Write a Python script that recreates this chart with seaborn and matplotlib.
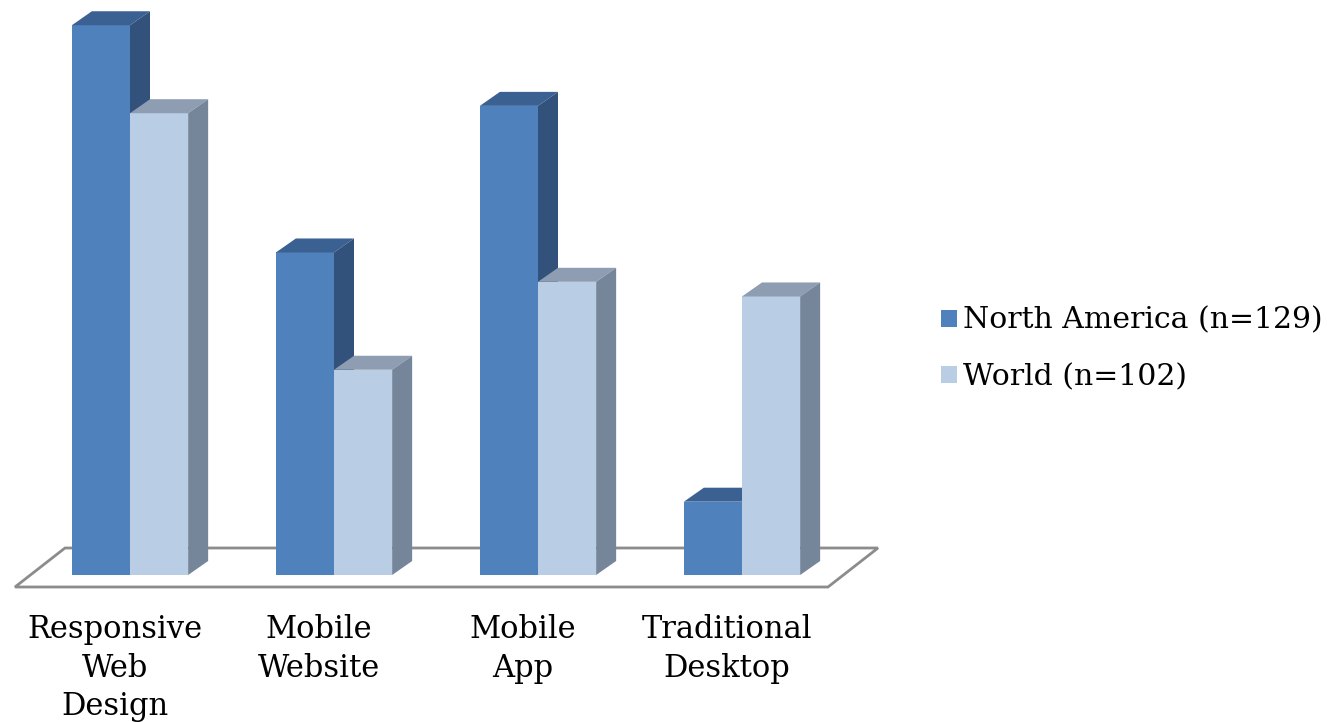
import numpy as np
import pandas as pd
import seaborn as sns
import matplotlib.pyplot as plt
from matplotlib.patches import Polygon
from matplotlib.transforms import ScaledTranslation

# ---- data ----
categories = ["Responsive\nWeb\nDesign", "Mobile\nWebsite", "Mobile\nApp", "Traditional\nDesktop"]
series = ["North America (n=129)", "World (n=102)"]
north_america = [75, 44, 64, 10]
world = [63, 28, 40, 38]

df = pd.DataFrame({
    "category": categories * 2,
    "series": [series[0]] * len(categories) + [series[1]] * len(categories),
    "value": north_america + world,
})

# ---- style ----
front_cols = ["#4f81bd", "#b9cde5"]
top_cols = ["#3b6192", "#8e9db1"]
side_cols = ["#32527b", "#76869a"]

sns.set_theme(style="white")
plt.rcParams['font.family'] = ['DejaVu Serif']
plt.rcParams['text.color'] = 'black'
FS_TICK = 22
FS_LEG = 21.5

W_PX, H_PX = 1327, 722
AX_RIGHT, AX_BOTTOM = 900, 595
X0_PX, PX_PER_CAT = 130, 204
ZERO_PX, PX_PER_UNIT = 575, 7.33

def dx(px):
    return px / PX_PER_CAT

def dy(px):
    return px / PX_PER_UNIT

fig = plt.figure(figsize=(W_PX / 100, H_PX / 100), dpi=100)
ax = fig.add_axes([0, (H_PX - AX_BOTTOM) / H_PX, AX_RIGHT / W_PX, AX_BOTTOM / H_PX])

sns.barplot(data=df, x="category", y="value", hue="series", hue_order=series,
            palette=front_cols, width=0.57, gap=0, saturation=1, errorbar=None,
            edgecolor="none", linewidth=0, ax=ax)

# 3D faces
DX, DY = dx(20), dy(14)
for ci, cont in enumerate(ax.containers):
    for bar in cont:
        x, w, h = bar.get_x(), bar.get_width(), bar.get_height()
        bar.set_zorder(2 + ci * 2)
        top = Polygon([(x, h), (x + w, h), (x + w + DX, h + DY), (x + DX, h + DY)],
                      closed=True, fc=top_cols[ci], ec="none", zorder=2.5 + ci * 2)
        side = Polygon([(x + w, 0), (x + w, h), (x + w + DX, h + DY), (x + w + DX, DY)],
                       closed=True, fc=side_cols[ci], ec="none", zorder=2.5 + ci * 2)
        ax.add_patch(top)
        ax.add_patch(side)

# floor
fl, fr = dx(15 - X0_PX), dx(828 - X0_PX)
fy = -dy(12)
fdx, fdy = dx(50), dy(39)
floor = Polygon([(fl, fy), (fr, fy), (fr + fdx, fy + fdy), (fl + fdx, fy + fdy)],
                closed=True, fc="white", ec="#8c8c8c", lw=2, zorder=1, clip_on=False)
ax.add_patch(floor)

ax.set_xlim(dx(-X0_PX), dx(AX_RIGHT - X0_PX))
ax.set_ylim(-dy(AX_BOTTOM - ZERO_PX), dy(ZERO_PX))
for s in ax.spines.values():
    s.set_visible(False)
ax.set_yticks([])
ax.set_xlabel("")
ax.set_ylabel("")
ax.tick_params(axis="x", length=0, pad=14, labelsize=FS_TICK, colors="black")
for lab in ax.get_xticklabels():
    lab.set_linespacing(1.3)
    lab.set_transform(lab.get_transform() + ScaledTranslation(-15 / 100, 0, fig.dpi_scale_trans))

handles, labels = ax.get_legend_handles_labels()
if ax.get_legend() is not None:
    ax.get_legend().remove()
leg = fig.legend(handles, labels, loc="center left", bbox_to_anchor=(941 / W_PX, 1 - 349 / H_PX),
                 frameon=False, fontsize=FS_LEG, handlelength=0.52, handleheight=0.52,
                 handletextpad=0.22, labelspacing=0.95, borderaxespad=0, borderpad=0)
for t in leg.get_texts():
    t.set_color("black")

fig.savefig("out.png", dpi=100, facecolor="white")
